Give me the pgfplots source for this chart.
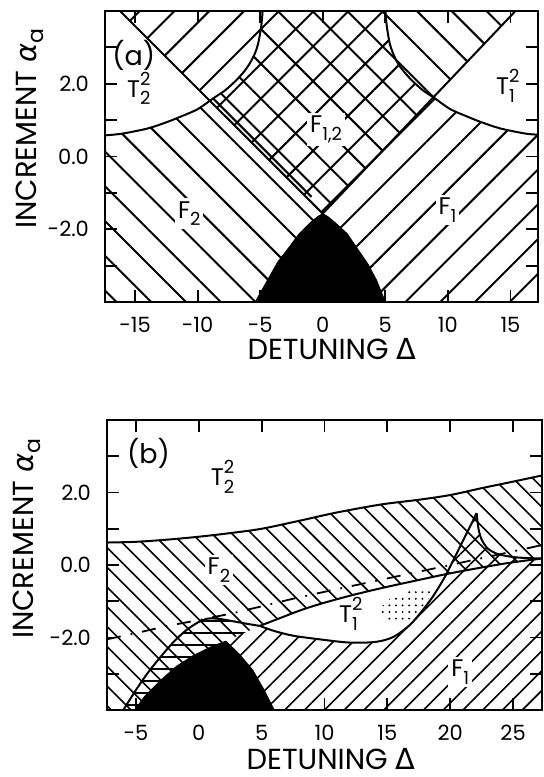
\documentclass[border=0pt]{standalone}
\usepackage{fontspec}
\setmainfont{Poppins}
\newfontfamily\gr{DejaVu Sans}
\usepackage{pgfplots}
\pgfplotsset{compat=1.18}
\usetikzlibrary{patterns.meta}

\newcommand\tickfont{\fontsize{10.5}{12}\selectfont}
\newcommand\labfont{\fontsize{14.5}{17}\selectfont}
\newcommand\inlab{\fontsize{12}{14}\selectfont}
\newcommand\panfont{\fontsize{13.5}{16}\selectfont}
\newcommand\sups[1]{\raisebox{0.5em}{\fontsize{9}{10}\selectfont #1}}
\newcommand\subs[1]{\raisebox{-0.32em}{\fontsize{9}{10}\selectfont #1}}
\newcommand\TT[2]{T\rlap{\sups{#2}}\subs{#1}}

\pgfplotsset{
 phase/.style={
  scale only axis,
  axis on top,
  tick align=inside,
  major tick length=6pt,
  tick style={black, line width=0.9pt},
  axis line style={line width=1.3pt},
  ymin=-4, ymax=4,
  ytick={-3,-2,-1,0,1,2,3},
  yticklabels={,-2.0,,0.0,,2.0,},
  every tick label/.append style={font=\tickfont},
  xticklabel style={yshift=-4pt},
  yticklabel style={xshift=-4.5pt},
  ylabel={\labfont INCREMENT {\gr\itshape α}\raisebox{-0.25em}{\fontsize{11}{12}\selectfont a}},
  xlabel={\labfont DETUNING {\gr Δ}},
 },
 bnd/.style={black, line width=1pt, no marks},
}

\begin{document}
\begin{tikzpicture}
\useasboundingbox (0,0) rectangle (272pt,388.5pt);

% ---------------- panel (a)
\begin{axis}[phase, width=216.5pt, height=145.5pt, at={(52.5pt,237.5pt)}, anchor=south west,
  xmin=-17.4, xmax=17.2, xtick={-15,-10,...,15}, xticklabels={-15,-10,-5,0,5,10,15},
  every axis x label/.style={at={(axis description cs:0.524,-0.1615)},anchor=center},
  every axis y label/.style={at={(axis description cs:-0.173,0.595)},rotate=90,anchor=center}]
% F1 region  (/)
\addplot[draw=none, pattern={Lines[angle=45,distance=12.3pt,line width=1pt]}] coordinates {
 (-16.2,4) (0,-1.57) (0.4,-1.65) (1,-1.82) (1.95,-2.12) (2.8,-2.55) (3.6,-2.95) (4.3,-3.4) (5.0,-4)
 (17.2,-4) (17.2,0.6) (16.2,0.63) (14.2,0.77) (12.7,0.94) (11.6,1.09) (10.2,1.3) (8.95,1.6)
 (8.0,1.82) (7.1,2.1) (6.5,2.33) (6.0,2.56) (5.6,2.85) (5.35,3.11) (5.15,3.5) (5.05,3.8) (5.0,4.0)} -- cycle;
% F2 region  (\)
\addplot[draw=none, pattern={Lines[angle=-45,distance=12.3pt,line width=1pt]}] coordinates {
 (15.4,4) (0,-1.57) (-0.4,-1.65) (-1,-1.82) (-1.95,-2.15) (-2.7,-2.5) (-3.6,-2.9) (-4.5,-3.45) (-5.4,-4)
 (-17.4,-4) (-17.4,0.58) (-16,0.63) (-14,0.77) (-12.5,0.94) (-11.4,1.09) (-10,1.3) (-8.75,1.6)
 (-7.8,1.82) (-6.9,2.1) (-6.3,2.33) (-5.83,2.56) (-5.4,2.85) (-5.16,3.11) (-4.95,3.5) (-4.85,3.8) (-4.8,4.0)} -- cycle;
% black region
\addplot[fill=black, draw=black] coordinates {
 (-5.4,-4) (-4.5,-3.45) (-3.6,-2.9) (-2.7,-2.5) (-1.95,-2.15) (-1,-1.82) (-0.4,-1.65) (0,-1.57)
 (0.4,-1.65) (1,-1.82) (1.95,-2.12) (2.8,-2.55) (3.6,-2.95) (4.3,-3.4) (5.0,-4)} -- cycle;
% boundaries
\addplot[bnd] coordinates {(-16.2,4) (0,-1.57)};
\addplot[bnd] coordinates {(0,-1.57) (15.4,4)};
\addplot[bnd] coordinates {(-8.75,1.59) (-0.9,-1.11)};
\addplot[bnd, smooth] coordinates {(-17.4,0.58) (-16,0.63) (-14,0.77) (-12.5,0.94) (-11.4,1.09) (-10,1.3)
 (-8.75,1.6) (-7.8,1.82) (-6.9,2.1) (-6.3,2.33) (-5.83,2.56) (-5.4,2.85) (-5.16,3.11) (-4.95,3.5) (-4.85,3.8) (-4.8,4.05)};
\addplot[bnd, smooth] coordinates {(17.2,0.6) (16.2,0.63) (14.2,0.77) (12.7,0.94) (11.6,1.09) (10.2,1.3)
 (8.95,1.6) (8.0,1.82) (7.1,2.1) (6.5,2.33) (6.0,2.56) (5.6,2.85) (5.35,3.11) (5.15,3.5) (5.05,3.8) (5.0,4.05)};
% labels
\node at (axis cs:-15.1,2.79) {\panfont (a)};
\node at (axis cs:-14.7,1.87) {\inlab\TT{2}{2}};
\node at (axis cs:14.6,1.95) {\inlab\TT{1}{2}};
\node[fill=white, inner sep=1.5pt] at (axis cs:0.27,0.74) {\inlab F\subs{1,2}};
\node[fill=white, inner sep=1.5pt] at (axis cs:-10.67,-1.57) {\inlab F\subs{2}};
\node[fill=white, inner sep=1.5pt] at (axis cs:9.97,-1.47) {\inlab F\subs{1}};
\end{axis}

% ---------------- panel (b)
\begin{axis}[phase, width=217.5pt, height=145pt, at={(53.5pt,33.5pt)}, anchor=south west,
  xmin=-7.3, xmax=27.3, xtick={-5,0,...,25}, xticklabels={-5,0,5,10,15,20,25},
  every axis x label/.style={at={(axis description cs:0.515,-0.17)},anchor=center},
  every axis y label/.style={at={(axis description cs:-0.184,0.59)},rotate=90,anchor=center}]
% F2 region (\)
\addplot[draw=none, pattern={Lines[angle=-45,distance=7pt,line width=0.8pt]}] coordinates {
 (-7.3,-4) (-7.3,0.62) (-5,0.64) (-2.5,0.7) (0,0.78) (2.5,0.88) (5,1.0) (8,1.22) (11,1.45) (14.5,1.67)
 (17.5,1.8) (20,1.93) (22.5,2.12) (25,2.3) (27.3,2.47) (27.3,0.18)
 (24.5,0.05) (22,-0.1) (19.7,-0.25) (17,-0.45) (14.5,-0.64) (12,-0.85) (9.6,-1.08) (8,-1.26) (6.5,-1.46) (4.85,-1.68)
 (2.15,-2.1) (1,-2.25) (-0.45,-2.5) (-1.8,-2.8) (-3.1,-3.2) (-4.3,-3.62) (-5.1,-4)} -- cycle;
% F1 region (/)
\addplot[draw=none, pattern={Lines[angle=45,distance=7pt,line width=0.8pt]}] coordinates {
 (6.0,-4) (27.3,-4) (27.3,0.18) (26.2,0.19) (25,0.22) (23.8,0.3) (23,0.45) (22.5,0.7) (22.25,1.0) (22.1,1.43)
 (19.7,-0.25) (19.2,-0.55) (18.6,-0.88) (17.8,-1.25) (16.8,-1.65) (15.5,-1.98) (14.1,-2.12) (12,-2.14)
 (9.6,-2.05) (7.5,-1.95) (6,-1.82) (4.85,-1.68) (2.15,-2.1) (3.2,-2.45) (4.3,-2.9) (5.2,-3.45)} -- cycle;
% crescent (horizontal lines)
\addplot[draw=none, pattern={Lines[angle=0,distance=6pt,line width=0.8pt]}] coordinates {
 (-6.0,-4) (-5.0,-3.45) (-4.0,-2.95) (-3,-2.52) (-2,-2.12) (-1,-1.8) (0,-1.57) (0.7,-1.48) (1.5,-1.48)
 (2.7,-1.55) (3.8,-1.62) (4.85,-1.68) (2.15,-2.1) (1,-2.25) (-0.45,-2.5) (-1.8,-2.8) (-3.1,-3.2) (-4.3,-3.62) (-5.1,-4)} -- cycle;
% dotted patch in T1^2
\addplot[draw=none, pattern={Dots[radius=0.55pt,distance=3.3pt]}] coordinates {
 (16.6,-0.66) (18.5,-0.66) (18.2,-1.0) (17.8,-1.3) (17.0,-1.58) (15.1,-1.58) (14.5,-1.4) (14.4,-1.2)
 (15.0,-1.0) (15.5,-0.83) (16.6,-0.83)} -- cycle;
% black region
\addplot[fill=black, draw=black] coordinates {
 (-5.1,-4) (-4.3,-3.62) (-3.1,-3.2) (-1.8,-2.8) (-0.45,-2.5) (1,-2.25) (2.15,-2.1)
 (3.2,-2.45) (4.3,-2.9) (5.2,-3.45) (6.0,-4)} -- cycle;
% boundaries
\addplot[bnd, smooth] coordinates {(-7.3,0.62) (-5,0.64) (-2.5,0.7) (0,0.78) (2.5,0.88) (5,1.0) (8,1.22)
 (11,1.45) (14.5,1.67) (17.5,1.8) (20,1.93) (22.5,2.12) (25,2.3) (27.3,2.47)};
\addplot[bnd, smooth] coordinates {(4.85,-1.68) (6.5,-1.46) (8,-1.26) (9.6,-1.08) (12,-0.85) (14.5,-0.64)
 (17,-0.45) (19.7,-0.25) (22,-0.1) (24.5,0.05) (27.3,0.18)};
\addplot[bnd, smooth] coordinates {(4.85,-1.68) (6,-1.82) (7.5,-1.95) (9.6,-2.05) (12,-2.14) (14.1,-2.12)
 (15.5,-1.98) (16.8,-1.65) (17.8,-1.25) (18.6,-0.88) (19.2,-0.55) (19.7,-0.25)};
\addplot[bnd] coordinates {(19.7,-0.25) (22.1,1.43)};
\addplot[bnd, smooth] coordinates {(22.1,1.43) (22.25,1.0) (22.5,0.7) (23,0.45) (23.8,0.3) (25,0.22) (26.2,0.19) (27.3,0.18)};
\addplot[bnd, smooth] coordinates {(-6.0,-4) (-5.0,-3.45) (-4.0,-2.95) (-3,-2.52) (-2,-2.12) (-1,-1.8)
 (0,-1.57) (0.7,-1.48) (1.5,-1.48) (2.7,-1.55) (3.8,-1.62) (4.85,-1.68)};
\addplot[black, line width=0.9pt, no marks, dash pattern=on 7pt off 5pt on 0.9pt off 5pt] coordinates {
 (-7.3,-2.05) (-5,-1.88) (-2.5,-1.68) (0,-1.52) (2.7,-1.33) (5,-1.14) (7.5,-0.93) (10,-0.74)
 (15,-0.37) (20,0.0) (26.65,0.5) (27.3,0.55)};
% labels
\node at (axis cs:-4.0,3.08) {\panfont (b)};
\node at (axis cs:1.9,2.44) {\inlab\TT{2}{2}};
\node[fill=white, inner sep=1.5pt] at (axis cs:1.6,-0.14) {\inlab F\subs{2}};
\node at (axis cs:11.9,-1.34) {\inlab\TT{1}{2}};
\node[fill=white, inner sep=1.5pt] at (axis cs:20.8,-2.95) {\inlab F\subs{1}};
\end{axis}
\end{tikzpicture}
\end{document}
